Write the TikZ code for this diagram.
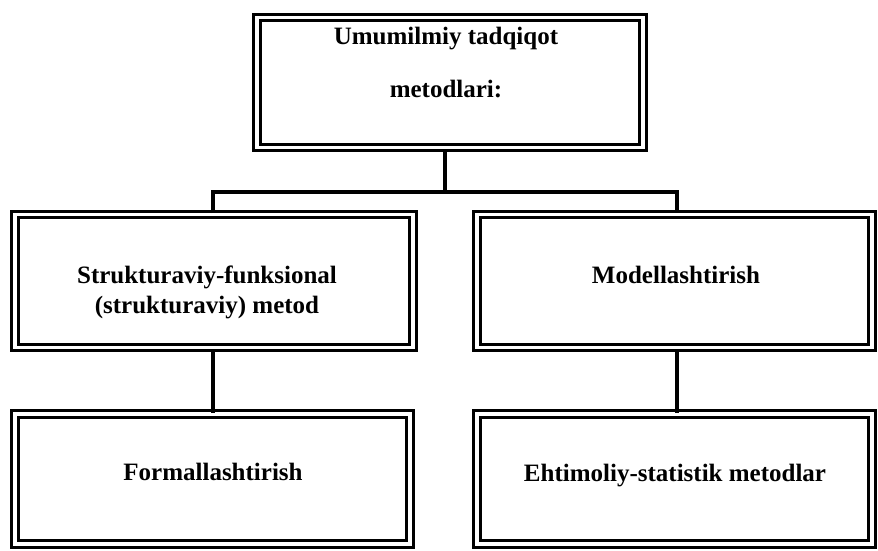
\documentclass[tikz,border=0pt]{standalone}
\usepackage{fontspec}
\setmainfont{Liberation Serif}
\begin{document}
\begin{tikzpicture}[x=1pt,y=-1pt,
  dbox/.style={draw=black, line width=3pt, double=white, double distance=3.5pt, rectangle, inner sep=0pt},
  lbl/.style={font=\fontsize{25}{31}\selectfont\bfseries, anchor=base, inner sep=0pt},
  conn/.style={draw=black, line width=3.5pt}]
\useasboundingbox (0,0) rectangle (878,551);
% boxes (outer edges minus half of double-line thickness)
\node[dbox, minimum width=386pt, minimum height=130pt] (top) at (450,82.5) {};
\node[dbox, minimum width=398pt, minimum height=133pt] (ml) at (214,281) {};
\node[dbox, minimum width=395pt, minimum height=133pt] (mr) at (674.5,281) {};
\node[dbox, minimum width=395pt, minimum height=130pt] (bl) at (212.5,479) {};
\node[dbox, minimum width=395pt, minimum height=130pt] (br) at (674.5,479) {};
% texts
\node[lbl] (t1) at (446,45) {Umumilmiy tadqiqot};
\node[lbl] (t2) at (446,97) {metodlari:};
\node[lbl] (m1) at (207,283) {Strukturaviy-funksional};
\node[lbl] (m2) at (207,313) {(strukturaviy) metod};
\node[lbl] (m3) at (676,283) {Modellashtirish};
\node[lbl] (b1) at (213,480) {Formallashtirish};
\node[lbl] (b2) at (675,481) {Ehtimoliy-statistik metodlar};
% connectors
\coordinate (tb) at (445,0);
\coordinate (lx) at (213,0);
\coordinate (rx) at (677,0);
\coordinate (hy) at (0,192);
\draw[conn] (top.south -| tb) -- (hy -| tb);
\draw[conn] (ml.north -| lx) -- (hy -| lx) -- (hy -| rx) -- (mr.north -| rx);
\draw[conn] (ml.south -| lx) -- (bl.north -| lx);
\draw[conn] (mr.south -| rx) -- (br.north -| rx);
\end{tikzpicture}
\end{document}
